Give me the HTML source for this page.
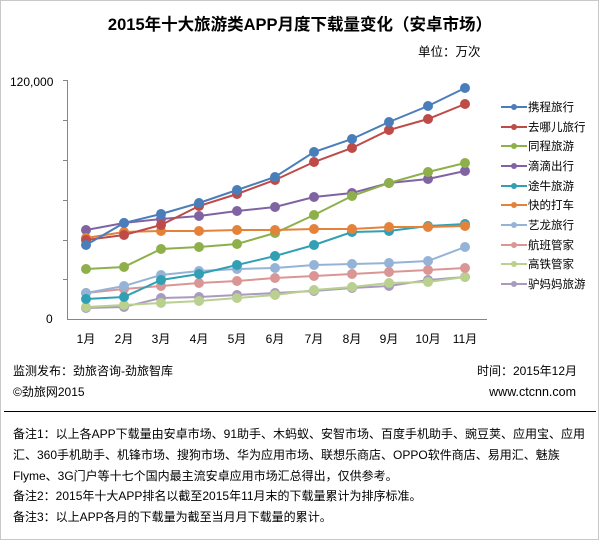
<!DOCTYPE html>
<html><head><meta charset="utf-8"><style>
html,body{margin:0;padding:0;background:#fff;}
svg{display:block;}
text{font-family:"Liberation Sans","Noto Sans CJK SC",sans-serif;fill:#000;}
</style></head><body>
<svg width="600" height="541" viewBox="0 0 600 541" xmlns="http://www.w3.org/2000/svg">
<defs>
<marker id="m0" markerWidth="11" markerHeight="11" refX="5.5" refY="5.5" markerUnits="userSpaceOnUse"><circle cx="5.5" cy="5.5" r="5" fill="#a99bbd"/></marker>
<marker id="m1" markerWidth="11" markerHeight="11" refX="5.5" refY="5.5" markerUnits="userSpaceOnUse"><circle cx="5.5" cy="5.5" r="5" fill="#b9d08f"/></marker>
<marker id="m2" markerWidth="11" markerHeight="11" refX="5.5" refY="5.5" markerUnits="userSpaceOnUse"><circle cx="5.5" cy="5.5" r="5" fill="#d99694"/></marker>
<marker id="m3" markerWidth="11" markerHeight="11" refX="5.5" refY="5.5" markerUnits="userSpaceOnUse"><circle cx="5.5" cy="5.5" r="5" fill="#95b3d7"/></marker>
<marker id="m4" markerWidth="11" markerHeight="11" refX="5.5" refY="5.5" markerUnits="userSpaceOnUse"><circle cx="5.5" cy="5.5" r="5" fill="#31a0b4"/></marker>
<marker id="m5" markerWidth="11" markerHeight="11" refX="5.5" refY="5.5" markerUnits="userSpaceOnUse"><circle cx="5.5" cy="5.5" r="5" fill="#8064a2"/></marker>
<marker id="m6" markerWidth="11" markerHeight="11" refX="5.5" refY="5.5" markerUnits="userSpaceOnUse"><circle cx="5.5" cy="5.5" r="5" fill="#8eb04a"/></marker>
<marker id="m7" markerWidth="11" markerHeight="11" refX="5.5" refY="5.5" markerUnits="userSpaceOnUse"><circle cx="5.5" cy="5.5" r="5" fill="#e5823a"/></marker>
<marker id="m8" markerWidth="11" markerHeight="11" refX="5.5" refY="5.5" markerUnits="userSpaceOnUse"><circle cx="5.5" cy="5.5" r="5" fill="#be4b48"/></marker>
<marker id="m9" markerWidth="11" markerHeight="11" refX="5.5" refY="5.5" markerUnits="userSpaceOnUse"><circle cx="5.5" cy="5.5" r="5" fill="#4a7ebb"/></marker>
</defs>
<rect x="0.5" y="0.5" width="598" height="539" fill="#fff" stroke="#c8c8c8" stroke-width="1"/>
<text x="300" y="30" font-size="16.5" font-weight="bold" text-anchor="middle">2015年十大旅游类APP月度下载量变化（安卓市场）</text>
<text x="418" y="56" font-size="12.5">单位：万次</text>
<text x="10" y="86" font-size="12">120,000</text>
<text x="46" y="323" font-size="12">0</text>
<g stroke="#868686" stroke-width="1">
<line x1="67.5" y1="80" x2="67.5" y2="319"/>
<line x1="67" y1="319.5" x2="487" y2="319.5"/>
<line x1="63" y1="80.5" x2="67" y2="80.5"/>
<line x1="63" y1="120.5" x2="67" y2="120.5"/>
<line x1="63" y1="160.5" x2="67" y2="160.5"/>
<line x1="63" y1="200.5" x2="67" y2="200.5"/>
<line x1="63" y1="240.5" x2="67" y2="240.5"/>
<line x1="63" y1="279.5" x2="67" y2="279.5"/>
</g>
<g font-size="12" text-anchor="middle">
<text x="86" y="343">1月</text><text x="124" y="343">2月</text><text x="161" y="343">3月</text><text x="199" y="343">4月</text><text x="237" y="343">5月</text><text x="275" y="343">6月</text><text x="314" y="343">7月</text><text x="352" y="343">8月</text><text x="389" y="343">9月</text><text x="428" y="343">10月</text><text x="465" y="343">11月</text>
</g>
<g stroke-width="2" fill="none">
<polyline stroke="#a99bbd" marker-start="url(#m0)" marker-mid="url(#m0)" marker-end="url(#m0)" points="86,308 124,307 161,298 199,297 237,295 275,293 314,291 352,288 389,286 428,280 465,277"/>
<polyline stroke="#b9d08f" marker-start="url(#m1)" marker-mid="url(#m1)" marker-end="url(#m1)" points="86,307 124,305 161,303 199,301 237,298 275,295 314,290 352,287 389,283 428,282 465,277"/>
<polyline stroke="#d99694" marker-start="url(#m2)" marker-mid="url(#m2)" marker-end="url(#m2)" points="86,293 124,289 161,286 199,283 237,281 275,278 314,276 352,274 389,272 428,270 465,268"/>
<polyline stroke="#95b3d7" marker-start="url(#m3)" marker-mid="url(#m3)" marker-end="url(#m3)" points="86,293 124,286 161,275 199,271 237,269 275,268 314,265 352,264 389,263 428,261 465,247"/>
<polyline stroke="#31a0b4" marker-start="url(#m4)" marker-mid="url(#m4)" marker-end="url(#m4)" points="86,299 124,297 161,280 199,274 237,265 275,256 314,245 352,232 389,231 428,226 465,224"/>
<polyline stroke="#8064a2" marker-start="url(#m5)" marker-mid="url(#m5)" marker-end="url(#m5)" points="86,230 124,223 161,219 199,216 237,211 275,207 314,197 352,193 389,183 428,179 465,171"/>
<polyline stroke="#8eb04a" marker-start="url(#m6)" marker-mid="url(#m6)" marker-end="url(#m6)" points="86,269 124,267 161,249 199,247 237,244 275,233 314,215 352,196 389,183 428,172 465,163"/>
<polyline stroke="#e5823a" marker-start="url(#m7)" marker-mid="url(#m7)" marker-end="url(#m7)" points="86,238 124,232 161,231 199,231 237,230 275,230 314,229 352,229 389,227 428,227 465,226"/>
<polyline stroke="#be4b48" marker-start="url(#m8)" marker-mid="url(#m8)" marker-end="url(#m8)" points="86,240 124,235 161,225 199,206 237,194 275,180 314,162 352,148 389,130 428,119 465,104"/>
<polyline stroke="#4a7ebb" marker-start="url(#m9)" marker-mid="url(#m9)" marker-end="url(#m9)" points="86,245 124,223 161,214 199,203 237,190 275,177 314,152 352,139 389,122 428,106 465,88"/>
</g>
<g font-size="11.5" stroke-width="2">
<line x1="501" y1="107" x2="527" y2="107" stroke="#4a7ebb"/><circle cx="514" cy="107" r="3" fill="#4a7ebb"/><text x="528" y="111">携程旅行</text>
<line x1="501" y1="127" x2="527" y2="127" stroke="#be4b48"/><circle cx="514" cy="127" r="3" fill="#be4b48"/><text x="528" y="131">去哪儿旅行</text>
<line x1="501" y1="146" x2="527" y2="146" stroke="#8eb04a"/><circle cx="514" cy="146" r="3" fill="#8eb04a"/><text x="528" y="150">同程旅游</text>
<line x1="501" y1="166" x2="527" y2="166" stroke="#8064a2"/><circle cx="514" cy="166" r="3" fill="#8064a2"/><text x="528" y="170">滴滴出行</text>
<line x1="501" y1="186" x2="527" y2="186" stroke="#31a0b4"/><circle cx="514" cy="186" r="3" fill="#31a0b4"/><text x="528" y="190">途牛旅游</text>
<line x1="501" y1="205" x2="527" y2="205" stroke="#e5823a"/><circle cx="514" cy="205" r="3" fill="#e5823a"/><text x="528" y="209">快的打车</text>
<line x1="501" y1="225" x2="527" y2="225" stroke="#95b3d7"/><circle cx="514" cy="225" r="3" fill="#95b3d7"/><text x="528" y="229">艺龙旅行</text>
<line x1="501" y1="245" x2="527" y2="245" stroke="#d99694"/><circle cx="514" cy="245" r="3" fill="#d99694"/><text x="528" y="249">航班管家</text>
<line x1="501" y1="264" x2="527" y2="264" stroke="#b9d08f"/><circle cx="514" cy="264" r="3" fill="#b9d08f"/><text x="528" y="268">高铁管家</text>
<line x1="501" y1="284" x2="527" y2="284" stroke="#a99bbd"/><circle cx="514" cy="284" r="3" fill="#a99bbd"/><text x="528" y="288">驴妈妈旅游</text>
</g>
<g font-size="12">
<text x="13" y="375">监测发布：劲旅咨询-劲旅智库</text>
<text x="577" y="375" text-anchor="end">时间：2015年12月</text>
<text x="13" y="396">©劲旅网2015</text>
<text x="576" y="396" text-anchor="end" font-size="12.5">www.ctcnn.com</text>
</g>
<line x1="4" y1="411.5" x2="596" y2="411.5" stroke="#000" stroke-width="1"/>
<g font-size="12">
<text x="13" y="438">备注1：以上各APP下载量由安卓市场、91助手、木蚂蚁、安智市场、百度手机助手、豌豆荚、应用宝、应用</text>
<text x="13" y="459">汇、360手机助手、机锋市场、搜狗市场、华为应用市场、联想乐商店、OPPO软件商店、易用汇、魅族</text>
<text x="13" y="480">Flyme、3G门户等十七个国内最主流安卓应用市场汇总得出，仅供参考。</text>
<text x="13" y="500">备注2：2015年十大APP排名以截至2015年11月末的下载量累计为排序标准。</text>
<text x="13" y="521">备注3：以上APP各月的下载量为截至当月月下载量的累计。</text>
</g>
</svg>
</body></html>
